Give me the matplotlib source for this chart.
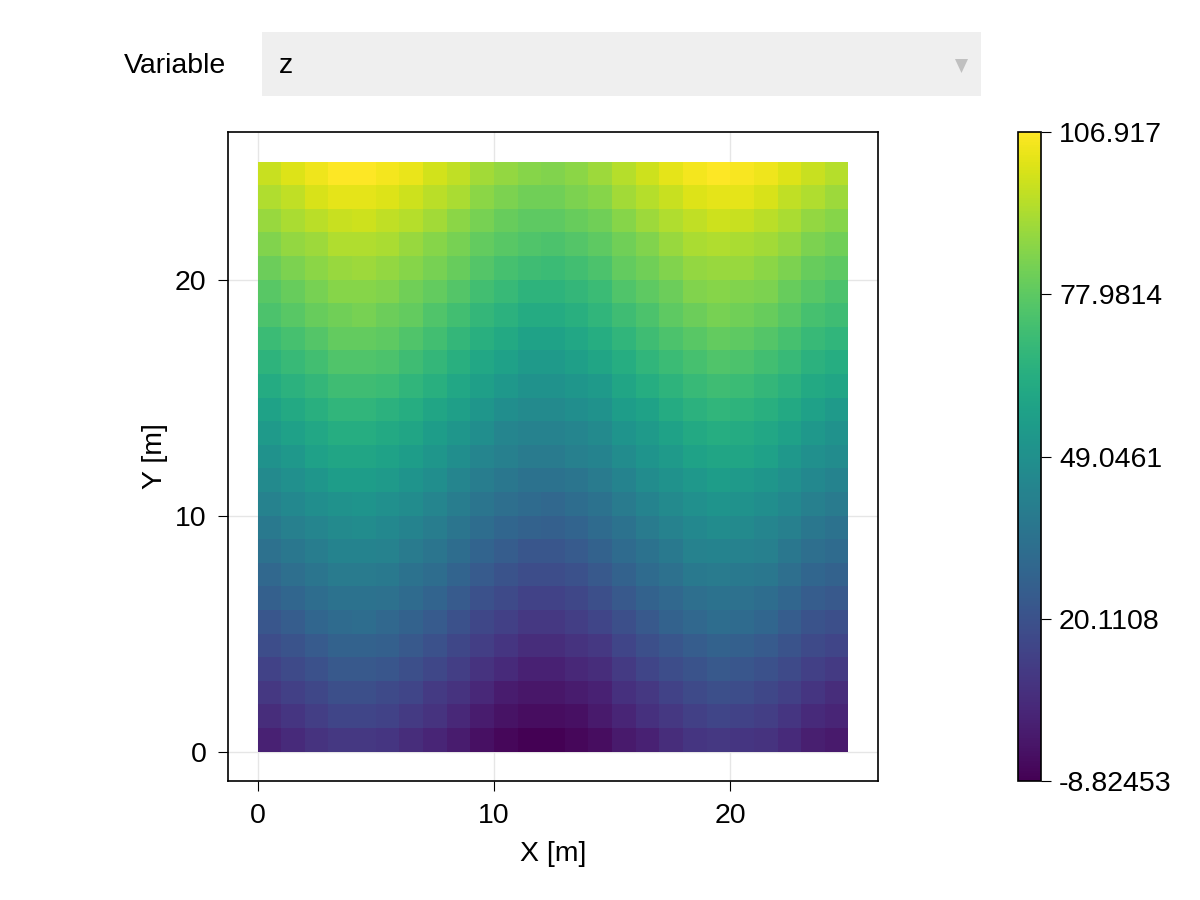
import numpy as np
import matplotlib
matplotlib.use("Agg")
import matplotlib.pyplot as plt
from matplotlib.patches import Rectangle, Polygon

plt.rcParams['font.family'] = ['Liberation Sans', 'DejaVu Sans']

# cell edges of the 25 x 25 grid
x_edges = list(range(26))
y_edges = list(range(26))

# z values, rows from y=0 (bottom) to y=24 (top), columns x=0..24
z = [
    [2, 5, 8, 10, 10, 9, 6, 3, 0, -4, -7, -8.82453, -8.8, -7, -5, -1, 2, 6, 9, 10, 9, 8, 5, 1, -1],
    [6, 9, 12, 15, 15, 14, 11, 8, 4, 0, -3, -5, -5, -4, -1, 3, 7, 10, 13, 15, 14, 12, 9, 5, 3],
    [10, 13, 16, 19, 19, 17, 15, 11, 8, 4, 0, -2, -2, 0, 2, 7, 10, 14, 17, 19, 18, 16, 13, 9, 6],
    [14, 17, 20, 23, 23, 22, 19, 16, 12, 8, 5, 2, 2, 4, 6, 11, 15, 18, 21, 23, 22, 20, 17, 13, 11],
    [18, 21, 24, 27, 27, 26, 23, 20, 16, 12, 9, 6, 6, 8, 10, 15, 19, 22, 25, 27, 26, 24, 21, 17, 15],
    [22, 25, 29, 31, 32, 30, 27, 24, 20, 16, 13, 10, 10, 12, 15, 19, 23, 27, 30, 32, 31, 29, 25, 21, 19],
    [26, 29, 32, 35, 35, 34, 31, 28, 24, 20, 17, 14, 14, 16, 19, 23, 27, 30, 33, 35, 34, 32, 29, 25, 23],
    [30, 33, 36, 39, 39, 38, 35, 32, 28, 24, 21, 18, 18, 20, 23, 27, 31, 34, 38, 39, 38, 37, 33, 29, 27],
    [34, 37, 40, 43, 43, 42, 39, 36, 32, 28, 25, 22, 22, 24, 27, 31, 35, 38, 42, 43, 42, 41, 37, 33, 31],
    [38, 41, 44, 46, 47, 45, 43, 40, 36, 32, 29, 27, 26, 28, 31, 35, 39, 42, 45, 47, 46, 44, 41, 37, 35],
    [42, 45, 48, 50, 51, 49, 47, 44, 40, 36, 33, 31, 30, 32, 35, 39, 43, 46, 49, 51, 50, 48, 45, 41, 39],
    [46, 49, 52, 55, 55, 54, 51, 48, 44, 40, 37, 35, 35, 36, 39, 43, 47, 50, 53, 55, 54, 52, 49, 45, 43],
    [50, 53, 57, 59, 59, 58, 55, 52, 48, 44, 41, 39, 39, 41, 43, 47, 51, 54, 58, 59, 59, 57, 53, 49, 47],
    [54, 57, 60, 63, 63, 61, 59, 55, 52, 48, 44, 42, 42, 44, 46, 51, 54, 58, 61, 63, 62, 60, 57, 53, 50],
    [58, 61, 64, 67, 67, 65, 63, 59, 56, 52, 48, 46, 46, 48, 50, 55, 58, 62, 65, 67, 66, 64, 61, 57, 54],
    [62, 65, 68, 71, 71, 70, 67, 64, 60, 56, 53, 50, 50, 52, 54, 59, 63, 66, 69, 71, 70, 68, 65, 61, 59],
    [66, 69, 72, 75, 75, 74, 71, 68, 64, 60, 57, 54, 54, 56, 59, 63, 67, 70, 73, 75, 74, 72, 69, 65, 63],
    [70, 73, 76, 79, 79, 78, 75, 72, 68, 64, 61, 58, 58, 60, 63, 67, 71, 74, 77, 79, 78, 76, 73, 69, 67],
    [74, 77, 80, 82, 83, 81, 79, 75, 72, 68, 65, 62, 62, 64, 67, 71, 74, 78, 81, 83, 82, 80, 77, 73, 71],
    [77, 80, 83, 86, 86, 85, 82, 79, 76, 72, 69, 66, 66, 68, 70, 75, 78, 81, 85, 86, 85, 84, 80, 77, 74],
    [81, 84, 87, 89, 90, 88, 86, 83, 80, 76, 73, 71, 70, 72, 74, 79, 82, 85, 88, 89, 89, 87, 84, 80, 78],
    [85, 88, 90, 93, 93, 92, 89, 86, 83, 79, 77, 75, 74, 76, 78, 82, 85, 89, 92, 93, 92, 91, 88, 84, 82],
    [89, 92, 95, 97, 98, 96, 94, 91, 87, 83, 80, 78, 78, 80, 82, 86, 90, 93, 96, 98, 97, 95, 92, 88, 86],
    [93, 96, 100, 102, 102, 101, 98, 95, 92, 87, 84, 82, 82, 84, 86, 91, 94, 97, 101, 102, 102, 100, 96, 93, 90],
    [97, 101, 104, 106.5, 106.917, 105, 103, 99, 96, 91, 88, 86, 85, 87, 90, 94, 98, 102, 105, 106.7, 106, 104, 101, 97, 94],
]

cbar_ticks = [-8.82453, 20.1108, 49.0461, 77.9814, 106.917]
cbar_labels = ["-8.82453", "20.1108", "49.0461", "77.9814", "106.917"]
axis_ticks = [0, 10, 20]
menu_label = "Variable"
menu_value = "z"

FS = 20.5

fig = plt.figure(figsize=(12, 9), dpi=100)

# dropdown menu look-alike
fig.text(124 / 1200, 1 - 66 / 900, menu_label, fontsize=FS, ha="left", va="center")
fig.add_artist(Rectangle((262 / 1200, 1 - 96 / 900), 719 / 1200, 64 / 900,
                         transform=fig.transFigure, facecolor="#efefef", edgecolor="none"))
fig.text(279 / 1200, 1 - 66 / 900, menu_value, fontsize=FS, ha="left", va="center")
fig.add_artist(Polygon([(955 / 1200, 1 - 59 / 900), (968 / 1200, 1 - 59 / 900),
                        (961.5 / 1200, 1 - 73 / 900)], closed=True,
                       transform=fig.transFigure, facecolor="#c0c0c0", edgecolor="none"))

ax = fig.add_axes([228 / 1200, 1 - 781 / 900, 650 / 1200, 649 / 900])
mesh = ax.pcolormesh(x_edges, y_edges, np.array(z), cmap="viridis",
                     vmin=cbar_ticks[0], vmax=cbar_ticks[-1], shading="flat")
ax.set_xlim(-1.25, 26.25)
ax.set_ylim(-1.25, 26.25)
ax.set_xticks(axis_ticks)
ax.set_yticks(axis_ticks)
ax.set_axisbelow(True)
ax.grid(True, color="#e6e6e6", linewidth=1.0)
ax.tick_params(labelsize=FS, length=7.5, width=0.8, pad=8, direction="out")
for s in ax.spines.values():
    s.set_linewidth(1.2)
ax.set_xlabel("X [m]", fontsize=FS, labelpad=9)
ax.set_ylabel("Y [m]", fontsize=FS, labelpad=5)

cax = fig.add_axes([1018 / 1200, 1 - 781 / 900, 23 / 1200, 649 / 900])
cb = fig.colorbar(mesh, cax=cax, ticks=cbar_ticks)
cb.ax.set_yticklabels(cbar_labels)
cb.ax.tick_params(labelsize=FS, length=7.5, width=0.8, pad=5.5)
cb.outline.set_linewidth(1.2)

fig.savefig("out.png", dpi=100)
